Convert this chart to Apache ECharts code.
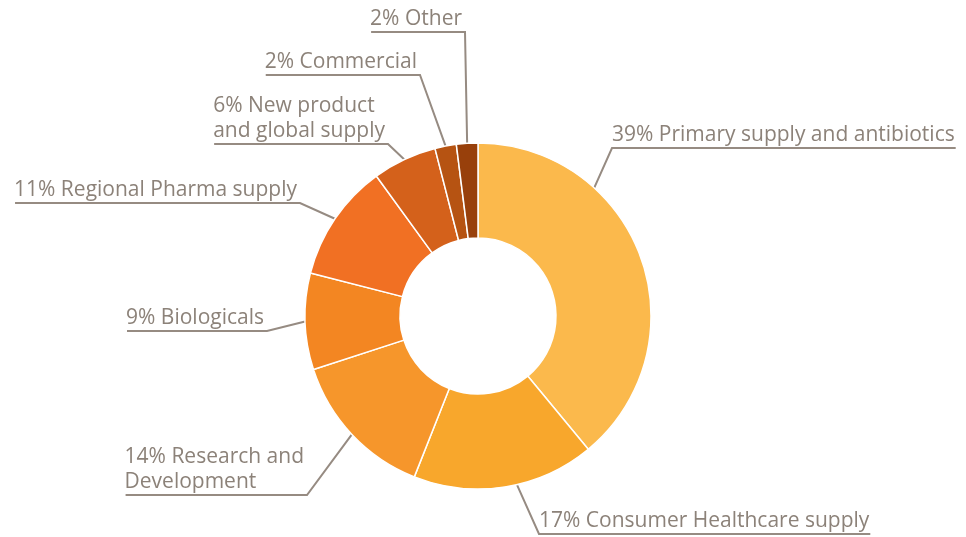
<!DOCTYPE html>
<html>
<head>
<meta charset="utf-8">
<script src="https://cdn.jsdelivr.net/npm/echarts@6/dist/echarts.min.js"></script>
<style>
  html, body { margin: 0; padding: 0; background: #ffffff; }
  #chart { width: 966px; height: 537px; }
</style>
</head>
<body>
<div id="chart"></div>
<script>
// Segment names (line breaks where the label wraps) and their shares in percent
const categories = [
  'Primary supply and antibiotics',
  'Consumer Healthcare supply',
  'Research and\nDevelopment',
  'Biologicals',
  'Regional Pharma supply',
  'New product\nand global supply',
  'Commercial',
  'Other'
];
const shares = [39, 17, 14, 9, 11, 6, 2, 2];
const sliceColors = ['#FBB94C', '#F8A72C', '#F6962B', '#F38622', '#F17023', '#D4611B', '#B65312', '#98400B'];

// Callout placement: which side the text sits on, the bend of the leader line,
// and (optionally) the angle on the rim where the leader starts.
const calloutPlacement = [
  { side: 'right', elbow: [612, 148], rimAngle: 47.8 },
  { side: 'right', elbow: [539, 534], rimAngle: -77 },
  { side: 'left',  elbow: [307, 495] },
  { side: 'left',  elbow: [267, 331] },
  { side: 'left',  elbow: [300, 203] },
  { side: 'left',  elbow: [388, 144] },
  { side: 'left',  elbow: [420, 75] },
  { side: 'left',  elbow: [465, 32] }
];

const CENTER = [478, 316];
const RADII = [78, 173];
const TEXT_COLOR = '#8C8279';
const LINE_COLOR = '#968B82';

const chart = echarts.init(document.getElementById('chart'), null, { renderer: 'canvas' });

chart.setOption({
  backgroundColor: '#ffffff',
  animation: false,
  series: [{
    type: 'pie',
    center: CENTER,
    radius: RADII,
    startAngle: 90,
    clockwise: true,
    avoidLabelOverlap: false,
    data: categories.map((name, i) => ({
      name: name,
      value: shares[i],
      itemStyle: { color: sliceColors[i] }
    })),
    itemStyle: { borderColor: '#ffffff', borderWidth: 1.5 },
    emphasis: { disabled: true },
    label: {
      show: true,
      position: 'outside',
      formatter: (p) => p.value + '% ' + p.name,
      color: TEXT_COLOR,
      fontFamily: '"Open Sans", "Noto Sans", sans-serif',
      fontSize: 21,
      lineHeight: 25
    },
    labelLine: {
      show: true,
      length: 10,
      length2: 10,
      lineStyle: { color: LINE_COLOR, width: 2 }
    },
    labelLayout: function (params) {
      const cfg = calloutPlacement[params.dataIndex];
      let start = params.labelLinePoints ? params.labelLinePoints[0].slice() : [CENTER[0], CENTER[1]];
      if (cfg.rimAngle !== undefined) {
        const a = cfg.rimAngle * Math.PI / 180;
        start = [CENTER[0] + RADII[1] * Math.cos(a), CENTER[1] - RADII[1] * Math.sin(a)];
      }
      const w = params.labelRect.width;
      const ex = cfg.elbow[0], ey = cfg.elbow[1];
      const isLeft = cfg.side === 'left';
      // text is left-aligned and sits on top of the horizontal run of the leader
      const textLeft = isLeft ? ex - w - 3 : ex;
      const endX = isLeft ? textLeft + 1 : ex + w + 1;
      return {
        x: textLeft,
        y: ey,
        align: 'left',
        verticalAlign: 'bottom',
        labelLinePoints: [start, [ex, ey], [endX, ey]]
      };
    }
  }]
});
</script>
</body>
</html>
